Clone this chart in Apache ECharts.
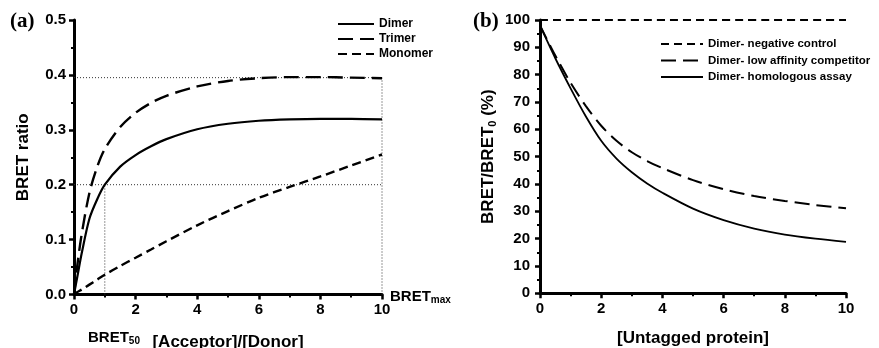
<!DOCTYPE html>
<html>
<head>
<meta charset="utf-8">
<script src="https://cdn.jsdelivr.net/npm/echarts@6/dist/echarts.min.js"></script>
<style>
  html, body { margin: 0; padding: 0; background: #fff; }
  #chart { width: 879px; height: 348px; }
</style>
</head>
<body>
<div id="chart"></div>
<script>
// (a) saturation curves
const leftX = [0, 0.1, 0.25, 0.5, 0.75, 1, 1.5, 2, 2.5, 3, 4, 5, 6, 7, 8, 9, 10];
const dimer = [0, 0.03, 0.075, 0.138, 0.173, 0.2, 0.233, 0.254, 0.27, 0.283, 0.301, 0.311, 0.3165, 0.319, 0.32, 0.32, 0.319];
const trimer = [0, 0.05, 0.11, 0.185, 0.232, 0.265, 0.305, 0.331, 0.349, 0.362, 0.379, 0.389, 0.394, 0.396, 0.396, 0.395, 0.394];
const monomer = [0, 0.004, 0.009, 0.018, 0.027, 0.036, 0.052, 0.067, 0.082, 0.097, 0.126, 0.152, 0.176, 0.196, 0.215, 0.235, 0.255];
const bretMax = 0.395;
const bret50 = [1, 0.2];
const leftXMax = 10;

// (b) competition curves
const rightX = [0, 0.5, 1, 1.5, 2, 2.5, 3, 3.5, 4, 5, 6, 7, 8, 9, 10];
const homologous = [98, 86, 75, 64.7, 55.8, 49.3, 44.3, 40.2, 36.8, 31, 26.8, 23.7, 21.5, 20, 18.8];
const lowAffinity = [98, 87, 77, 68.5, 61.3, 55.8, 51.6, 48.4, 45.8, 41.4, 38.1, 35.6, 33.8, 32.3, 31.1];
const negControlX = [0, 10];
const negControl = [100, 100];

const leftYTicks = { min: 0, max: 0.5, interval: 0.1 };
const rightYTicks = { min: 0, max: 100, interval: 10 };
const xTicks = { min: 0, max: 10, interval: 2 };

const pairs = (xs, ys) => xs.map((x, i) => [x, ys[i]]);

const font = 'Liberation Sans, Arial, sans-serif';
const black = '#000';

function axisBase(idx) {
  return {
    gridIndex: idx,
    type: 'value',
    axisLine: { show: true, onZero: false, lineStyle: { color: black, width: 3 } },
    axisTick: { show: true, inside: false, length: 5, lineStyle: { color: black, width: 2.5 } },
    minorTick: { show: true, splitNumber: 2, length: 3, lineStyle: { color: black, width: 2 } },
    axisLabel: { color: black, fontFamily: font, fontWeight: 'bold', fontSize: 15, margin: 8 },
    splitLine: { show: false },
    minorSplitLine: { show: false }
  };
}

const nameStyle = {
  color: black,
  fontFamily: font,
  fontWeight: 'bold',
  fontSize: 17,
  rich: {
    a: { fontFamily: font, fontWeight: 'bold', fontSize: 17, color: black },
    s: { fontFamily: font, fontWeight: 'bold', fontSize: 11, color: black, padding: [8, 0, 0, 0] }
  }
};

const dotted = { color: '#333', width: 1, type: [1, 2] };

function refLine(points) {
  return {
    type: 'line',
    xAxisIndex: 0,
    yAxisIndex: 0,
    data: points,
    symbol: 'none',
    silent: true,
    lineStyle: dotted,
    z: 1
  };
}

function curve(name, xi, xs, ys, lineType, width) {
  return {
    name: name,
    type: 'line',
    xAxisIndex: xi,
    yAxisIndex: xi,
    data: pairs(xs, ys),
    symbol: 'none',
    smooth: 0.3,
    lineStyle: { color: black, width: width, type: lineType },
    itemStyle: { color: black },
    z: 3
  };
}

const chart = echarts.init(document.getElementById('chart'));

const option = {
  animation: false,
  backgroundColor: '#fff',
  grid: [
    { left: 74, right: 497, top: 20, bottom: 53.5, containLabel: false, outerBoundsMode: 'none' },
    { left: 540, right: 33, top: 20, bottom: 54.7, containLabel: false, outerBoundsMode: 'none' }
  ],
  xAxis: [
    Object.assign(axisBase(0), {
      min: xTicks.min, max: xTicks.max, interval: xTicks.interval,
      name: '[Acceptor]/[Donor]', nameLocation: 'middle', nameGap: 39,
      nameTextStyle: nameStyle
    }),
    Object.assign(axisBase(1), {
      min: xTicks.min, max: xTicks.max, interval: xTicks.interval,
      name: '[Untagged protein]', nameLocation: 'middle', nameGap: 37,
      nameTextStyle: nameStyle
    })
  ],
  yAxis: [
    Object.assign(axisBase(0), {
      min: leftYTicks.min, max: leftYTicks.max, interval: leftYTicks.interval,
      axisLabel: Object.assign(axisBase(0).axisLabel, { formatter: v => v.toFixed(1) }),
      name: 'BRET ratio', nameLocation: 'middle', nameRotate: 90, nameGap: 42,
      nameTextStyle: nameStyle
    }),
    Object.assign(axisBase(1), {
      min: rightYTicks.min, max: rightYTicks.max, interval: rightYTicks.interval,
      axisLabel: Object.assign(axisBase(1).axisLabel, { margin: 10 }),
      name: '{a|BRET/BRET}{s|0}{a| (%)}', nameLocation: 'middle', nameRotate: 90, nameGap: 42,
      nameTextStyle: nameStyle
    })
  ],
  legend: [
    {
      data: ['Dimer', 'Trimer', 'Monomer'],
      orient: 'vertical',
      left: 332,
      top: 13,
      itemWidth: 36,
      itemHeight: 12,
      itemGap: 3,
      itemStyle: { opacity: 0 },
      textStyle: { color: black, fontFamily: font, fontWeight: 'bold', fontSize: 12 }
    },
    {
      data: ['Dimer- negative control', 'Dimer- low affinity competitor', 'Dimer- homologous assay'],
      orient: 'vertical',
      left: 655,
      top: 33,
      itemWidth: 42,
      itemHeight: 12,
      itemGap: 4.5,
      itemStyle: { opacity: 0 },
      textStyle: { color: black, fontFamily: font, fontWeight: 'bold', fontSize: 11.5 }
    }
  ],
  graphic: [
    { type: 'text', left: 10, top: 11, style: { text: '(a)', font: 'bold 21px "Liberation Serif", serif', fill: black } },
    { type: 'text', left: 473, top: 11, style: { text: '(b)', font: 'bold 21px "Liberation Serif", serif', fill: black } },
    {
      type: 'text', left: 88, top: 330,
      style: {
        text: '{a|BRET}{s|50}',
        rich: {
          a: { font: 'bold 15px ' + font, fill: black },
          s: { font: 'bold 10px ' + font, fill: black, padding: [7, 0, 0, 0] }
        }
      }
    },
    {
      type: 'text', left: 390, top: 289,
      style: {
        text: '{a|BRET}{s|max}',
        rich: {
          a: { font: 'bold 15px ' + font, fill: black },
          s: { font: 'bold 10px ' + font, fill: black, padding: [7, 0, 0, 0] }
        }
      }
    }
  ],
  series: [
    refLine([[0, bretMax], [leftXMax, bretMax]]),
    refLine([[0, bret50[1]], [leftXMax, bret50[1]]]),
    refLine([[bret50[0], 0], [bret50[0], bret50[1]]]),
    refLine([[leftXMax, 0], [leftXMax, bretMax]]),
    curve('Dimer', 0, leftX, dimer, 'solid', 2.2),
    curve('Trimer', 0, leftX, trimer, [15, 7], 2.4),
    curve('Monomer', 0, leftX, monomer, [9, 5], 2.4),
    curve('Dimer- negative control', 1, negControlX, negControl, [8, 5], 2.2),
    curve('Dimer- low affinity competitor', 1, rightX, lowAffinity, [15, 7], 2),
    curve('Dimer- homologous assay', 1, rightX, homologous, 'solid', 1.8)
  ]
};

chart.setOption(option);
</script>
</body>
</html>
